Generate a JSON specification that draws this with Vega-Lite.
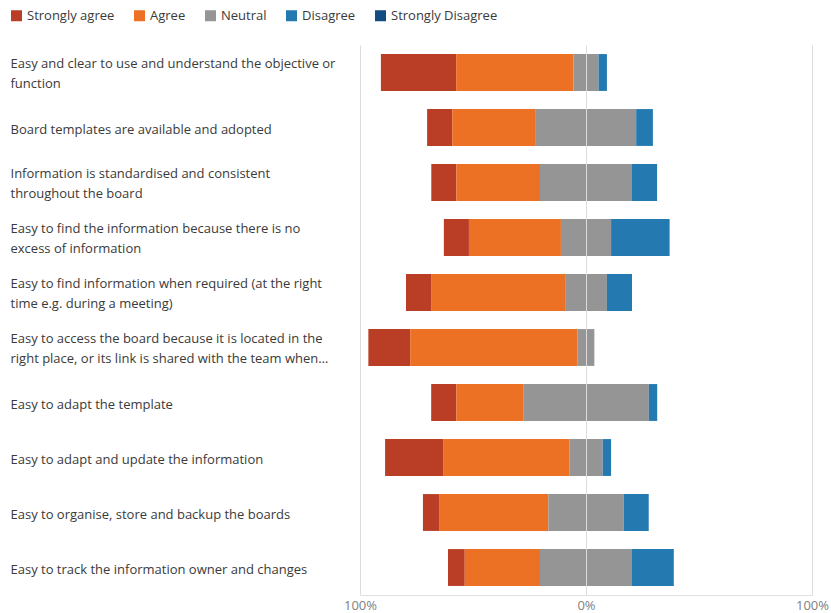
{
  "$schema": "https://vega.github.io/schema/vega-lite/v6.json",
  "autosize": {"type": "none"},
  "padding": {"left": 360, "top": 45, "right": 19, "bottom": 18},
  "width": 452,
  "height": 550,
  "background": "white",
  "config": {
    "view": {"stroke": null},
    "font": "Open Sans"
  },
  "data": {
    "values": [
      {"question": "Easy and clear to use and understand the objective or\nfunction", "response": "Strongly agree", "pct": 33.3},
      {"question": "Easy and clear to use and understand the objective or\nfunction", "response": "Agree", "pct": 51.9},
      {"question": "Easy and clear to use and understand the objective or\nfunction", "response": "Neutral", "pct": 11.1},
      {"question": "Easy and clear to use and understand the objective or\nfunction", "response": "Disagree", "pct": 3.7},
      {"question": "Easy and clear to use and understand the objective or\nfunction", "response": "Strongly Disagree", "pct": 0},
      {"question": "Board templates are available and adopted", "response": "Strongly agree", "pct": 11.1},
      {"question": "Board templates are available and adopted", "response": "Agree", "pct": 37.0},
      {"question": "Board templates are available and adopted", "response": "Neutral", "pct": 44.4},
      {"question": "Board templates are available and adopted", "response": "Disagree", "pct": 7.4},
      {"question": "Board templates are available and adopted", "response": "Strongly Disagree", "pct": 0},
      {"question": "Information is standardised and consistent\nthroughout the board", "response": "Strongly agree", "pct": 11.1},
      {"question": "Information is standardised and consistent\nthroughout the board", "response": "Agree", "pct": 37.0},
      {"question": "Information is standardised and consistent\nthroughout the board", "response": "Neutral", "pct": 40.7},
      {"question": "Information is standardised and consistent\nthroughout the board", "response": "Disagree", "pct": 11.1},
      {"question": "Information is standardised and consistent\nthroughout the board", "response": "Strongly Disagree", "pct": 0},
      {"question": "Easy to find the information because there is no\nexcess of information", "response": "Strongly agree", "pct": 11.1},
      {"question": "Easy to find the information because there is no\nexcess of information", "response": "Agree", "pct": 40.7},
      {"question": "Easy to find the information because there is no\nexcess of information", "response": "Neutral", "pct": 22.2},
      {"question": "Easy to find the information because there is no\nexcess of information", "response": "Disagree", "pct": 25.9},
      {"question": "Easy to find the information because there is no\nexcess of information", "response": "Strongly Disagree", "pct": 0},
      {"question": "Easy to find information when required (at the right\ntime e.g. during a meeting)", "response": "Strongly agree", "pct": 11.1},
      {"question": "Easy to find information when required (at the right\ntime e.g. during a meeting)", "response": "Agree", "pct": 59.3},
      {"question": "Easy to find information when required (at the right\ntime e.g. during a meeting)", "response": "Neutral", "pct": 18.5},
      {"question": "Easy to find information when required (at the right\ntime e.g. during a meeting)", "response": "Disagree", "pct": 11.1},
      {"question": "Easy to find information when required (at the right\ntime e.g. during a meeting)", "response": "Strongly Disagree", "pct": 0},
      {"question": "Easy to access the board because it is located in the\nright place, or its link is shared with the team when…", "response": "Strongly agree", "pct": 18.5},
      {"question": "Easy to access the board because it is located in the\nright place, or its link is shared with the team when…", "response": "Agree", "pct": 74.1},
      {"question": "Easy to access the board because it is located in the\nright place, or its link is shared with the team when…", "response": "Neutral", "pct": 7.4},
      {"question": "Easy to access the board because it is located in the\nright place, or its link is shared with the team when…", "response": "Disagree", "pct": 0},
      {"question": "Easy to access the board because it is located in the\nright place, or its link is shared with the team when…", "response": "Strongly Disagree", "pct": 0},
      {"question": "Easy to adapt the template", "response": "Strongly agree", "pct": 11.1},
      {"question": "Easy to adapt the template", "response": "Agree", "pct": 29.6},
      {"question": "Easy to adapt the template", "response": "Neutral", "pct": 55.6},
      {"question": "Easy to adapt the template", "response": "Disagree", "pct": 3.7},
      {"question": "Easy to adapt the template", "response": "Strongly Disagree", "pct": 0},
      {"question": "Easy to adapt and update the information", "response": "Strongly agree", "pct": 25.9},
      {"question": "Easy to adapt and update the information", "response": "Agree", "pct": 55.6},
      {"question": "Easy to adapt and update the information", "response": "Neutral", "pct": 14.8},
      {"question": "Easy to adapt and update the information", "response": "Disagree", "pct": 3.7},
      {"question": "Easy to adapt and update the information", "response": "Strongly Disagree", "pct": 0},
      {"question": "Easy to organise, store and backup the boards", "response": "Strongly agree", "pct": 7.4},
      {"question": "Easy to organise, store and backup the boards", "response": "Agree", "pct": 48.1},
      {"question": "Easy to organise, store and backup the boards", "response": "Neutral", "pct": 33.3},
      {"question": "Easy to organise, store and backup the boards", "response": "Disagree", "pct": 11.1},
      {"question": "Easy to organise, store and backup the boards", "response": "Strongly Disagree", "pct": 0},
      {"question": "Easy to track the information owner and changes", "response": "Strongly agree", "pct": 7.4},
      {"question": "Easy to track the information owner and changes", "response": "Agree", "pct": 33.3},
      {"question": "Easy to track the information owner and changes", "response": "Neutral", "pct": 40.7},
      {"question": "Easy to track the information owner and changes", "response": "Disagree", "pct": 18.5},
      {"question": "Easy to track the information owner and changes", "response": "Strongly Disagree", "pct": 0}
    ]
  },
  "transform": [
    {"calculate": "indexof(['Strongly agree','Agree','Neutral','Disagree','Strongly Disagree'], datum.response)", "as": "level"},
    {"calculate": "datum.level < 2 ? datum.pct : (datum.level == 2 ? datum.pct / 2 : 0)", "as": "signed"},
    {"stack": "pct", "as": ["v1", "v2"], "groupby": ["question"], "sort": [{"field": "level", "order": "ascending"}]},
    {"joinaggregate": [{"field": "signed", "op": "sum", "as": "offset"}], "groupby": ["question"]},
    {"calculate": "datum.v1 - datum.offset", "as": "nx"},
    {"calculate": "datum.v2 - datum.offset", "as": "nx2"}
  ],
  "mark": {"type": "bar"},
  "encoding": {
    "y": {
      "field": "question",
      "type": "nominal",
      "sort": [
        "Easy and clear to use and understand the objective or\nfunction",
        "Board templates are available and adopted",
        "Information is standardised and consistent\nthroughout the board",
        "Easy to find the information because there is no\nexcess of information",
        "Easy to find information when required (at the right\ntime e.g. during a meeting)",
        "Easy to access the board because it is located in the\nright place, or its link is shared with the team when…",
        "Easy to adapt the template",
        "Easy to adapt and update the information",
        "Easy to organise, store and backup the boards",
        "Easy to track the information owner and changes"
      ],
      "scale": {"paddingInner": 0.33, "paddingOuter": 0.165},
      "axis": {
        "title": null,
        "ticks": false,
        "tickSize": 0,
        "domain": false,
        "grid": false,
        "labelAlign": "left",
        "labelPadding": 350,
        "labelLimit": 400,
        "labelFontSize": 13,
        "labelColor": "#3a3a3a",
        "labelLineHeight": 19.5,
        "labelOffset": {"condition": {"test": "indexof(datum.value, '\\n') >= 0", "value": -8.5}, "value": 2},
        "labelExpr": "split(datum.label, '\\n')"
      }
    },
    "x": {
      "field": "nx",
      "type": "quantitative",
      "scale": {"domain": [-100, 100], "nice": false},
      "axis": {
        "title": null,
        "values": [-100, 0, 100],
        "labelExpr": "abs(datum.value) + '%'",
        "ticks": false,
        "labelFlush": false,
        "labelFontSize": 13,
        "labelColor": "#808080",
        "labelPadding": 4,
        "domainColor": "#e0e0e0",
        "gridColor": "#dcdcdc",
        "zindex": 1
      }
    },
    "x2": {"field": "nx2"},
    "color": {
      "field": "response",
      "type": "nominal",
      "scale": {
        "domain": ["Strongly agree", "Agree", "Neutral", "Disagree", "Strongly Disagree"],
        "range": ["#BA3D26", "#EC7125", "#959595", "#2379B0", "#124C81"]
      },
      "legend": {
        "title": null,
        "orient": "none",
        "legendX": -350,
        "legendY": -36,
        "direction": "horizontal",
        "symbolType": "square",
        "symbolSize": 121,
        "symbolStrokeWidth": 0,
        "labelFontSize": 13,
        "labelColor": "#3a3a3a",
        "labelOffset": 4,
        "columnPadding": 18
      }
    }
  }
}
